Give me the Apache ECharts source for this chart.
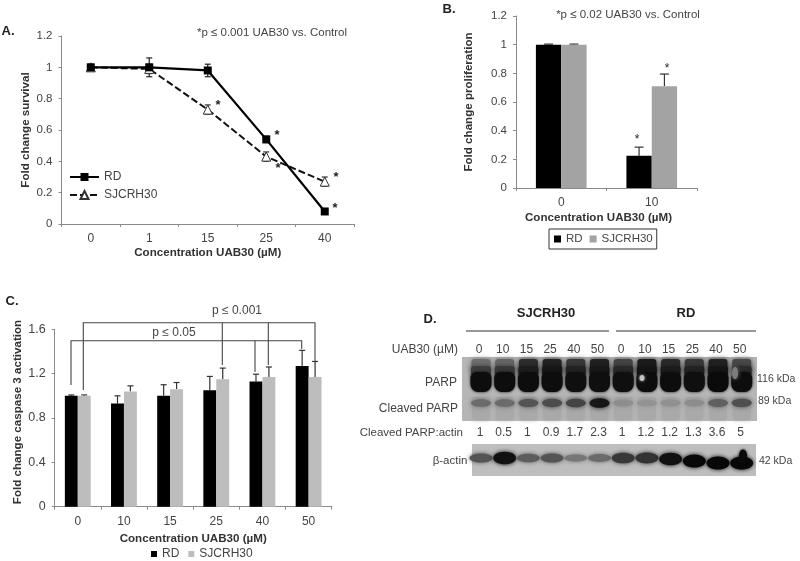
<!DOCTYPE html>
<html><head><meta charset="utf-8">
<script src="https://cdn.jsdelivr.net/npm/echarts@6/dist/echarts.min.js"></script>
<style>html,body{margin:0;padding:0;background:#fff}#c{width:800px;height:561px;filter:blur(0.45px)}</style>
</head><body><div id="c"></div>
<script>
const FONT='"Liberation Sans",Arial,sans-serif';
const TXT='#444', AX='#8a8a8a';
// Panel A
const catsA=['0','1','15','25','40'];
const rdA=[1,1,0.98,0.54,0.08];
const rdAErr=[0.02,0.06,0.04,0.02,0.01];
const sjA=[1,0.99,0.73,0.43,0.27];
const sjAErr=[0.01,0.03,0.03,0.03,0.03];
// Panel B
const catsB=['0','10'];
const rdB=[1,0.225];
const rdBErr=[0.004,0.06];
const sjB=[1,0.71];
const sjBErr=[0.004,0.085];
// Panel C
const catsC=['0','10','15','25','40','50'];
const rdC=[1,0.93,1,1.05,1.13,1.27];
const rdCErr=[0.008,0.07,0.1,0.125,0.065,0.14];
const sjC=[1,1.04,1.06,1.15,1.17,1.17];
const sjCErr=[0.008,0.05,0.06,0.1,0.09,0.14];
// Panel D (blot)
const laneDose=['0','10','15','25','40','50','0','10','15','25','40','50'];
const laneRatio=['1','0.5','1','0.9','1.7','2.3','1','1.2','1.2','1.3','3.6','5'];
const parpTop=[0.4,0.45,0.78,0.85,0.72,0.85,0.65,0.88,0.8,0.72,0.85,0.62];
const parpDark=[0.97,0.97,0.97,0.97,0.96,0.96,0.96,0.97,0.97,0.96,0.98,0.97];
const cleaved=[0.42,0.42,0.55,0.6,0.65,0.92,0.22,0.18,0.2,0.22,0.48,0.58];
const actin=[0.55,0.95,0.5,0.55,0.35,0.42,0.72,0.75,0.95,1,1,1];

const nameStyle={color:'#333',fontWeight:'bold',fontSize:11.6,fontFamily:FONT};
const base=(n)=>({type:'category',data:n,position:'bottom',
  axisLine:{lineStyle:{color:AX,width:1}},axisTick:{show:true,length:3,alignWithLabel:false,lineStyle:{color:AX}},
  axisLabel:{color:TXT,fontSize:12,fontFamily:FONT,margin:9},splitLine:{show:false},
  nameLocation:'middle',name:'Concentration UAB30 (µM)',nameMoveOverlap:false,
  nameTextStyle:nameStyle});
const yax=(name,max,iv,fs,gap,pad)=>({type:'value',min:0,max:max,interval:iv,name:name,nameLocation:'middle',nameGap:gap,nameMoveOverlap:false,
  nameTextStyle:Object.assign({},nameStyle,{padding:pad||0}),
  axisLine:{show:true,lineStyle:{color:AX}},axisTick:{show:true,length:3,lineStyle:{color:AX}},
  axisLabel:{color:TXT,fontSize:fs,fontFamily:FONT,margin:9},splitLine:{show:false}});

function errSeries(gi,vals,errs,side,frac,cap,both,color){
  return {type:'custom',name:'err',xAxisIndex:gi,yAxisIndex:gi,silent:true,z:1,
    data:vals.map((v,i)=>[i,v,errs[i]]),
    encode:{x:0,y:[1]},
    renderItem:(p,api)=>{
      const i=api.value(0),v=api.value(1),e=api.value(2);
      const band=api.size([1,0])[0];
      const c=api.coord([i,v]);const x=c[0]+side*frac*band;
      const hi=api.coord([i,v+e])[1],lo=both?api.coord([i,v-e])[1]:c[1];
      const st={stroke:color,lineWidth:1.2,fill:null};
      return {type:'group',children:[
        {type:'line',shape:{x1:x,y1:lo,x2:x,y2:hi},style:st},
        {type:'line',shape:{x1:x-cap,y1:hi,x2:x+cap,y2:hi},style:st},
        ...(both?[{type:'line',shape:{x1:x-cap,y1:lo,x2:x+cap,y2:lo},style:st}]:[])
      ]};
    }};
}
const bar=(name,gi,d,color)=>({type:'bar',name:name,xAxisIndex:gi,yAxisIndex:gi,data:d,barWidth:'28%',barGap:'0%',itemStyle:{color:color},z:2,silent:true});
const leg=(o)=>Object.assign({selectedMode:false,textStyle:{color:TXT,fontSize:12,fontFamily:FONT},formatter:n=>n.split(' ')[0]},o);

const txt=(t,x,y,o={})=>({type:'text',z:50,x:x,y:y,silent:true,style:Object.assign({text:t,fill:TXT,fontSize:11,fontFamily:FONT,align:'center',verticalAlign:'middle'},o)});
const poly=(pts,c='#444',w=1.1)=>({type:'polyline',z:40,silent:true,shape:{points:pts},style:{stroke:c,lineWidth:w,fill:null}});

const gr=[];
[['A.',8,31],['B.',449,9],['C.',12,301],['D.',430,319]].forEach(a=>gr.push(txt(a[0],a[1],a[2],{fontWeight:'bold',fontSize:13,fill:'#222'})));
gr.push(txt('*p ≤ 0.001 UAB30 vs. Control',272,33,{fontSize:11.5}));
gr.push(txt('*p ≤ 0.02 UAB30 vs. Control',628,15,{fontSize:11.5}));
[[218,105],[277,135],[278,168],[336,177],[335,208]].forEach(s=>gr.push(txt('*',s[0],s[1],{fontWeight:'bold',fontSize:13,fill:'#222'})));
[[637,140],[667,69]].forEach(s=>gr.push(txt('*',s[0],s[1],{fontSize:12,fill:'#222'})));
gr.push(poly([[83.3,390],[83.3,322.7],[315,322.7],[315,361]]));
gr.push(poly([[222.3,322.7],[222.3,365]]));
gr.push(poly([[268.3,322.7],[268.3,365]]));
gr.push(poly([[71,385],[71,340.7],[301.7,340.7],[301.7,349]]));
gr.push(poly([[255,340.7],[255,372]]));
gr.push(txt('p ≤ 0.001',237,311,{fontSize:12}));
gr.push(txt('p ≤ 0.05',174,333,{fontSize:12}));
gr.push(txt('SJCRH30',546,313,{fontWeight:'bold',fontSize:13,fill:'#222'}));
gr.push(txt('RD',686,313,{fontWeight:'bold',fontSize:13,fill:'#222'}));
gr.push(poly([[466,331],[609,331]],'#333',1));
gr.push(poly([[616,331],[756,331]],'#333',1));
gr.push(txt('UAB30 (µM)',458,350,{align:'right',fontSize:12}));
gr.push(txt('PARP',441,383,{fontSize:12}));
gr.push(txt('Cleaved PARP',458,409,{align:'right',fontSize:12}));
gr.push(txt('Cleaved PARP:actin',463,433,{align:'right',fontSize:11.5}));
gr.push(txt('β-actin',450,461,{fontSize:11.5}));
gr.push(txt('116 kDa',757,379,{align:'left',fontSize:10.5}));
gr.push(txt('89 kDa',758,401,{align:'left',fontSize:10.5}));
gr.push(txt('42 kDa',759,461,{align:'left',fontSize:10.5}));
const rect=(x,y,w,h,fill,z,extra={},r=0)=>({type:'rect',z:z,silent:true,shape:{x,y,width:w,height:h,r},style:Object.assign({fill},extra)});
const ell=(cx,cy,rx,ry,fill,z,blur=4)=>({type:'ellipse',z:z,silent:true,shape:{cx,cy,rx,ry},style:{fill,shadowBlur:blur,shadowColor:fill}});
gr.push(rect(462,357,295,64,'#b6b6b6',10));
gr.push(rect(472,444,284,32,'#bebebe',10));
const grey=(a)=>{const v=Math.round(178-170*a);return 'rgb('+v+','+v+','+v+')';};
laneDose.forEach((d,i)=>{
  const x=481+23.7*i;
  gr.push(txt(d,x-2,350,{fontSize:12}));
  gr.push(txt(laneRatio[i],x-1,433,{fontSize:12}));
  // lower smear
  gr.push(rect(x-9,397,18,23,'#a9a9a9',11,{shadowBlur:4,shadowColor:'#a9a9a9'},3));
  // fading upper part of the PARP band
  const mid=grey((parpTop[i]+parpDark[i])/2);
  gr.push(rect(x-9.5,359,19,14,grey(parpTop[i]),12,{shadowBlur:5,shadowColor:grey(parpTop[i])},3));
  gr.push(rect(x-10,366,20,10,mid,12,{shadowBlur:5,shadowColor:mid},3));
  // dark PARP band
  gr.push(rect(x-10.5,372,21,20,grey(parpDark[i]),13,{shadowBlur:3,shadowColor:grey(parpDark[i])},[6,6,8,8]));
  // cleaved PARP band
  gr.push(ell(x,403,10,3+2*cleaved[i],grey(cleaved[i]),13,5));
  // actin band
  const dy=i===9?3:i>=10?5:i===8?1:0;
  gr.push(ell(x,458+dy,11.5,2+4.6*actin[i],grey(actin[i]),13,4));
});
// artefacts on the film
gr.push(ell(642,378,2.5,3,'#c4c4c4',14,3));
gr.push(ell(735,373,3,6,'#7c7c7c',14,4));
gr.push(ell(743,456,4,6.5,'#0a0a0a',14,3));

const option={
  animation:false,backgroundColor:'#fff',textStyle:{fontFamily:FONT},
  grid:[
    {left:61.5,top:36,width:292.5,height:188},
    {left:516,top:16,width:181,height:172},
    {left:54.7,top:329.3,width:277,height:177.4}
  ],
  xAxis:[
    Object.assign(base(catsA),{gridIndex:0,nameGap:23}),
    Object.assign(base(catsB),{gridIndex:1,nameGap:24,nameTextStyle:Object.assign({},nameStyle,{padding:[0,16,0,0]})}),
    Object.assign(base(catsC),{gridIndex:2,nameGap:26})
  ],
  yAxis:[
    Object.assign(yax('Fold change survival',1.2,0.2,11.5,30),{gridIndex:0}),
    Object.assign(yax('Fold change proliferation',1.2,0.2,11.5,41),{gridIndex:1}),
    Object.assign(yax('Fold change caspase 3 activation',1.6,0.4,12.5,31,[0,0,0,12]),{gridIndex:2})
  ],
  legend:[
    leg({left:69,top:171,orient:'vertical',itemWidth:29,itemHeight:10,itemGap:6,padding:0,data:['RD','SJCRH30']}),
    leg({left:549,top:229,orient:'horizontal',itemWidth:7,itemHeight:7,itemGap:7,padding:[4,4,4,5],borderColor:'#333',borderWidth:1,icon:'rect',
      textStyle:{color:TXT,fontSize:11.5,fontFamily:FONT},data:['RD B','SJCRH30 B']}),
    leg({left:151,top:548,orient:'horizontal',itemWidth:6,itemHeight:6,itemGap:9,padding:0,icon:'rect',data:['RD C','SJCRH30 C']})
  ],
  series:[
    errSeries(0,sjA,sjAErr,0,0,3,true,'#333'),
    {type:'line',name:'SJCRH30',xAxisIndex:0,yAxisIndex:0,data:sjA,symbol:'triangle',symbolSize:9,showSymbol:true,z:3,silent:true,
      lineStyle:{color:'#111',width:2,type:[7,3]},itemStyle:{color:'#fff',borderColor:'#333',borderWidth:1}},
    errSeries(0,rdA,rdAErr,0,0,3,true,'#222'),
    {type:'line',name:'RD',xAxisIndex:0,yAxisIndex:0,data:rdA,symbol:'rect',symbolSize:8,z:4,silent:true,
      lineStyle:{color:'#000',width:2.2},itemStyle:{color:'#000'}},
    bar('RD B',1,rdB,'#000'),bar('SJCRH30 B',1,sjB,'#a3a3a3'),
    errSeries(1,rdB,rdBErr,-1,0.14,4.5,false,'#333'),
    errSeries(1,sjB,sjBErr,1,0.14,4.5,false,'#333'),
    bar('RD C',2,rdC,'#000'),bar('SJCRH30 C',2,sjC,'#bdbdbd'),
    errSeries(2,rdC,rdCErr,-1,0.14,3,false,'#333'),
    errSeries(2,sjC,sjCErr,1,0.14,3,false,'#333')
  ],
  graphic:{elements:gr}
};
const chart=echarts.init(document.getElementById('c'),null,{renderer:'canvas'});
chart.setOption(option);
</script></body></html>
